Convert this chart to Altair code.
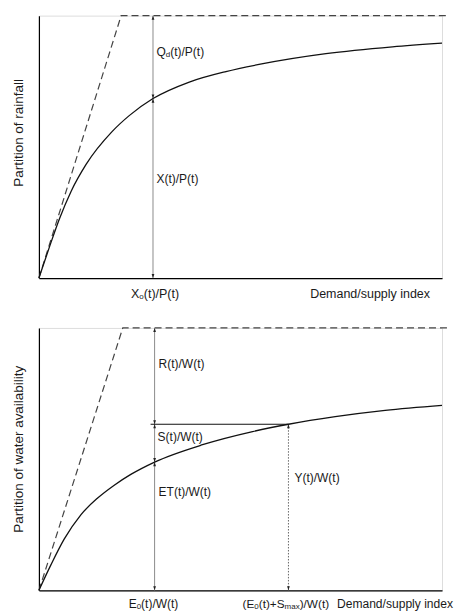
import altair as alt
import pandas as pd

FONT = "Liberation Sans"
INK = "#111111"
GREY = "#8c8c8c"
LABEL = "#1a1a1a"

# Upper panel: partition of rainfall along the demand/supply index
rain_index = [0.0, 0.026, 0.051, 0.080, 0.117, 0.182, 0.224, 0.283, 0.373, 0.464, 0.546, 0.712, 0.877, 1.0]
rain_share = [0.0, 0.118, 0.226, 0.331, 0.433, 0.559, 0.619, 0.684, 0.747, 0.787, 0.814, 0.855, 0.881, 0.895]
rain_limit_index = [0.0, 0.204, 1.01]
rain_limit_share = [0.0, 1.0, 1.0]
rain_xo = 0.283  # X_o(t)/P(t)

# Lower panel: partition of water availability
water_index = [0.0, 0.030, 0.063, 0.104, 0.145, 0.186, 0.228, 0.287, 0.406, 0.530, 0.619, 0.735, 0.859, 1.0]
water_share = [0.0, 0.098, 0.196, 0.288, 0.351, 0.400, 0.442, 0.489, 0.555, 0.605, 0.633, 0.662, 0.686, 0.705]
water_limit_index = [0.0, 0.208, 1.02]
water_limit_share = [0.0, 1.0, 1.0]
water_e0 = 0.287        # E_0(t)/W(t)
water_e0_smax = 0.619   # (E_0(t)+S_max)/W(t)
water_s_start = 0.277   # left end of the storage line

rain_at_xo = rain_share[rain_index.index(rain_xo)]
water_at_e0 = water_share[water_index.index(water_e0)]
water_s_level = water_share[water_index.index(water_e0_smax)]

PLOT_W, PLOT_H = 404, 263
ARROW_UP = "M0,0L-0.5,1.5L0.5,1.5Z"
ARROW_DOWN = "M0,0L-0.5,-1.5L0.5,-1.5Z"

# advance widths (em) used to set subscripts inline
ADVANCE = {"(": 0.333, ")": 0.333, "/": 0.278, "+": 0.584, "t": 0.278, "P": 0.667,
           "Q": 0.778, "X": 0.667, "R": 0.722, "W": 0.944, "S": 0.667, "E": 0.667,
           "T": 0.611, "Y": 0.667, "d": 0.556, "o": 0.556, "0": 0.556, "m": 0.833,
           "a": 0.556, "x": 0.5}


def text_width(s, size):
    return sum(ADVANCE.get(c, 0.556) for c in s) * size


def enc_x():
    return alt.X("x:Q", scale=alt.Scale(domain=[0, 1], nice=False, zero=False),
                 axis=alt.Axis(domain=True, domainColor="black", domainWidth=1.2,
                               ticks=False, labels=False, grid=False, title=None))


def enc_y(title, title_y):
    return alt.Y("y:Q", scale=alt.Scale(domain=[0, 1], nice=False, zero=False),
                 axis=alt.Axis(domain=True, domainColor="black", domainWidth=1.2,
                               ticks=False, labels=False, grid=False, title=title,
                               titleFont=FONT, titleFontSize=13.5, titleFontWeight="normal",
                               titleColor=LABEL, titleAngle=270, titleAlign="center",
                               titleBaseline="alphabetic", titleX=-16, titleY=title_y))


def rich_label(parts, x, y, ys, dx=0, dy=0, size=12, sub_size=8):
    """Left-aligned label built from (text, is_subscript) pieces."""
    layers = []
    offset = dx
    for txt, sub in parts:
        fs = sub_size if sub else size
        df = pd.DataFrame({"x": [x], "y": [y], "t": [txt]})
        layers.append(
            alt.Chart(df).mark_text(align="left", baseline="middle", font=FONT, fontSize=fs,
                                    dx=offset, dy=dy + (3 if sub else 0), color=LABEL)
            .encode(x=enc_x(), y=ys, text="t:N")
        )
        offset += text_width(txt, fs)
    return layers


def plain_label(txt, x, y, ys, align="left", dx=0, dy=0, size=12):
    df = pd.DataFrame({"x": [x], "y": [y], "t": [txt]})
    return (alt.Chart(df).mark_text(align=align, baseline="middle", font=FONT, fontSize=size,
                                    dx=dx, dy=dy, color=LABEL)
            .encode(x=enc_x(), y=ys, text="t:N"))


def curve(xs, ys_vals, ys):
    df = pd.DataFrame({"x": xs, "y": ys_vals})
    return (alt.Chart(df).mark_line(color=INK, strokeWidth=1.3, interpolate="monotone")
            .encode(x=enc_x(), y=ys))


def limit(xs, ys_vals, ys):
    df = pd.DataFrame({"x": xs, "y": ys_vals})
    return (alt.Chart(df).mark_line(color="#444444", strokeWidth=1.2, strokeDash=[7, 4])
            .encode(x=enc_x(), y=ys))


def vrule(x, y0, y1, ys, dash=None, color=GREY):
    df = pd.DataFrame({"x": [x], "y": [y0], "y2": [y1]})
    kw = dict(color=color, strokeWidth=1)
    if dash:
        kw["strokeDash"] = dash
    return alt.Chart(df).mark_rule(**kw).encode(x=enc_x(), y=ys, y2="y2:Q")


def arrows(xs, ys_vals, dirs, ys):
    df = pd.DataFrame({"x": xs, "y": ys_vals, "dir": dirs})
    return (alt.Chart(df).mark_point(filled=True, size=30, color="#222222", opacity=1, strokeWidth=0)
            .encode(x=enc_x(), y=ys,
                    shape=alt.Shape("dir:N", scale=alt.Scale(domain=["up", "down"],
                                                             range=[ARROW_UP, ARROW_DOWN]),
                                    legend=None)))


# ---- upper panel ----
ys_top = enc_y("Partition of rainfall", 117)
top_layers = [
    limit(rain_limit_index, rain_limit_share, ys_top),
    vrule(rain_xo, 0, 1, ys_top),
    curve(rain_index, rain_share, ys_top),
    arrows([rain_xo] * 4, [1, rain_at_xo, rain_at_xo, 0], ["up", "down", "up", "down"], ys_top),
    *rich_label([("Q", False), ("d", True), ("(t)/P(t)", False)], rain_xo, 0.863, ys_top, dx=3.5),
    plain_label("X(t)/P(t)", rain_xo, 0.376, ys_top, dx=3.5),
    *rich_label([("X", False), ("o", True), ("(t)/P(t)", False)], rain_xo, 0, ys_top,
                dx=-22, dy=16, size=12.5),
    plain_label("Demand/supply index", 1, 0, ys_top, align="right", dx=-12, dy=16, size=12.5),
]
top = alt.layer(*top_layers).properties(width=PLOT_W, height=PLOT_H)

# ---- lower panel ----
ys_bot = enc_y("Partition of water availability", 121)
s_line = (alt.Chart(pd.DataFrame({"x": [water_s_start], "x2": [water_e0_smax], "y": [water_s_level]}))
          .mark_rule(color=INK, strokeWidth=1.2)
          .encode(x=enc_x(), x2="x2:Q", y=ys_bot))
bottom_layers = [
    limit(water_limit_index, water_limit_share, ys_bot),
    vrule(water_e0, 0, 1, ys_bot),
    vrule(water_e0_smax, 0, water_s_level, ys_bot, dash=[1.5, 1.5], color="#666666"),
    s_line,
    curve(water_index, water_share, ys_bot),
    arrows([water_e0] * 6 + [water_e0_smax] * 2,
           [1, water_s_level, water_s_level, water_at_e0, water_at_e0, 0, water_s_level, 0],
           ["up", "down", "up", "down", "up", "down", "up", "down"], ys_bot),
    plain_label("R(t)/W(t)", water_e0, 0.864, ys_bot, dx=4),
    plain_label("S(t)/W(t)", water_e0, 0.583, ys_bot, dx=3),
    plain_label("ET(t)/W(t)", water_e0, 0.375, ys_bot, dx=4),
    plain_label("Y(t)/W(t)", water_e0_smax, 0.428, ys_bot, dx=6),
    *rich_label([("E", False), ("0", True), ("(t)/W(t)", False)], water_e0, 0, ys_bot,
                dx=-26, dy=14),
    *rich_label([("(E", False), ("0", True), ("(t)+S", False), ("max", True), (")/W(t)", False)],
                water_e0_smax, 0, ys_bot, dx=-46, dy=14, size=11.8),
    plain_label("Demand/supply index", 1, 0, ys_bot, align="right", dx=11, dy=14, size=12.1),
]
bottom = alt.layer(*bottom_layers).properties(width=PLOT_W, height=PLOT_H)

chart = (alt.vconcat(top, bottom, spacing=50, bounds="flush")
         .properties(padding={"left": 11, "top": 12, "right": 0, "bottom": 0})
         .configure_view(stroke=None)
         .configure(background="white"))

chart.save("out.html", embed_options={"renderer": "svg", "actions": False})
